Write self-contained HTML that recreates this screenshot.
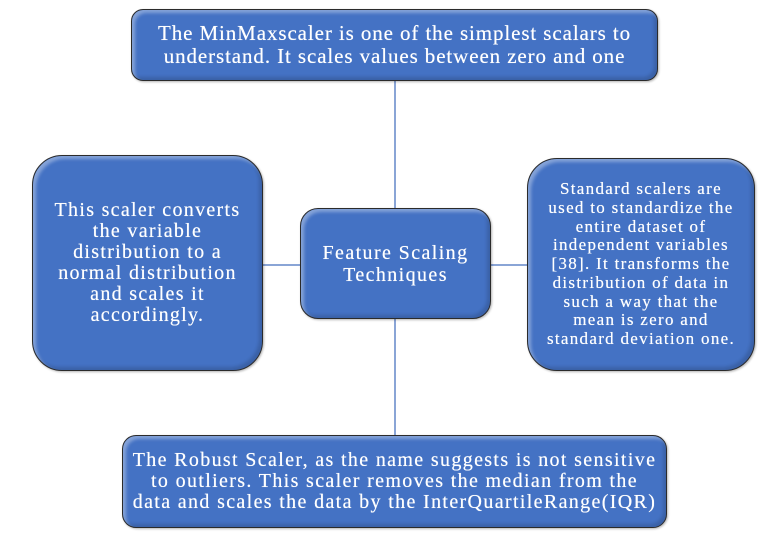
<!DOCTYPE html>
<html><head><style>
body{margin:0;width:779px;height:541px;background:#fff;position:relative;overflow:hidden;font-family:"Liberation Serif",serif;}
.b{position:absolute;background:#4472c4;border:1.5px solid #2b2b2b;box-sizing:border-box;color:#fff;display:flex;align-items:center;justify-content:center;text-align:center;white-space:nowrap;text-shadow:0 0 0.5px #fff;box-shadow:inset 3px 3px 3px rgba(255,255,255,0.35),inset -3px -3px 3px rgba(0,0,0,0.15),1px 1px 2px rgba(0,0,0,0.3);}
.l{position:absolute;background:#8aa5d6;}
</style></head><body>
<div class="l" style="left:394px;top:80px;width:2px;height:356px"></div>
<div class="l" style="left:262px;top:264px;width:266px;height:2px"></div>
<div class="b" style="left:131px;top:9px;width:527px;height:72px;border-radius:12px;font-size:21px;letter-spacing:0.9px;line-height:23px">The MinMaxscaler is one of the simplest scalars to<br>understand. It scales values between zero and one</div>
<div class="b" style="left:32px;top:155px;width:231px;height:216px;border-radius:30px;font-size:20px;letter-spacing:1.3px;line-height:21px">This scaler converts<br>the variable<br>distribution to a<br>normal distribution<br>and scales it<br>accordingly.</div>
<div class="b" style="left:300px;top:208px;width:191px;height:111px;border-radius:18px;font-size:20px;letter-spacing:1.4px;line-height:22px">Feature Scaling<br>Techniques</div>
<div class="b" style="left:527px;top:158px;width:228px;height:213px;border-radius:30px;font-size:17px;letter-spacing:1.3px;line-height:18.75px">Standard scalers are<br>used to standardize the<br>entire dataset of<br>independent variables<br>[38]. It transforms the<br>distribution of data in<br>such a way that the<br>mean is zero and<br>standard deviation one.</div>
<div class="b" style="left:122px;top:435px;width:545px;height:93px;border-radius:14px;font-size:20px;letter-spacing:1.35px;line-height:21px">The Robust Scaler, as the name suggests is not sensitive<br>to outliers. This scaler removes the median from the<br>data and scales the data by the InterQuartileRange(IQR)</div>
</body></html>
